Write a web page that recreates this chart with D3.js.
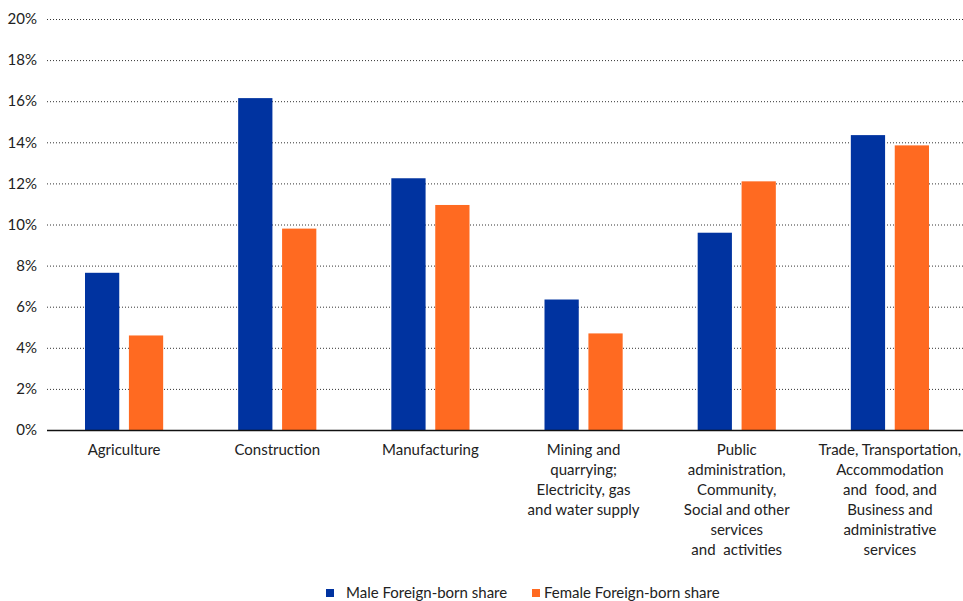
<!DOCTYPE html>
<html>
<head>
<meta charset="utf-8">
<script src="https://cdn.jsdelivr.net/npm/d3@7"></script>
<style>
  body { margin: 0; background: #fff; }
  svg { font-family: "Lato", "Open Sans", sans-serif; }
</style>
</head>
<body>
<svg id="chart" width="963" height="601"></svg>
<script>
var categories = [
  ["Agriculture"],
  ["Construction"],
  ["Manufacturing"],
  ["Mining and", "quarrying;", "Electricity, gas", "and water supply"],
  ["Public", "administration,", "Community,", "Social and other", "services", "and  activities"],
  ["Trade, Transportation,", "Accommodation", "and  food, and", "Business and", "administrative", "services"]
];
var male = [7.65, 16.15, 12.25, 6.35, 9.6, 14.35];
var female = [4.6, 9.8, 10.95, 4.7, 12.1, 13.85];
var seriesNames = ["Male Foreign-born share", "Female Foreign-born share"];
var yTicks = [0, 2, 4, 6, 8, 10, 12, 14, 16, 18, 20];

var colors = ["#0033a0", "#ff6a21"];

var svg = d3.select("#chart"),
    margin = {top: 19, right: 0, bottom: 171, left: 47},
    width = +svg.attr("width") - margin.left - margin.right,
    height = +svg.attr("height") - margin.top - margin.bottom,
    g = svg.append("g").attr("transform", "translate(" + margin.left + "," + margin.top + ")");

var x0 = d3.scaleBand()
    .domain(d3.range(categories.length))
    .range([0.5, 919.5])
    .paddingInner(0)
    .paddingOuter(0);

var x1 = d3.scaleBand()
    .domain([0, 1])
    .range([37.5, x0.bandwidth() - 37.5])
    .paddingInner(0.22);

var y = d3.scaleLinear()
    .domain([0, 20])
    .range([height, 0]);

// grid
g.append("g")
  .selectAll("line")
  .data(yTicks.slice(1))
  .enter().append("line")
    .attr("x1", 0)
    .attr("x2", width)
    .attr("y1", function(d) { return y(d) + 0.5; })
    .attr("y2", function(d) { return y(d) + 0.5; })
    .attr("stroke", "#333")
    .attr("stroke-dasharray", "1,2");

// y labels
g.append("g")
  .selectAll("text")
  .data(yTicks)
  .enter().append("text")
    .attr("x", -10)
    .attr("y", function(d) { return y(d); })
    .attr("dy", "0.35em")
    .attr("text-anchor", "end")
    .attr("font-size", 15)
    .attr("fill", "#222")
    .text(function(d) { return d + "%"; });

// bars
var groups = g.append("g")
  .selectAll("g")
  .data(categories.map(function(c, i) { return [male[i], female[i]]; }))
  .enter().append("g")
    .attr("transform", function(d, i) { return "translate(" + x0(i) + ",0)"; });

groups.selectAll("rect")
  .data(function(d) { return d; })
  .enter().append("rect")
    .attr("x", function(d, j) { return x1(j); })
    .attr("width", x1.bandwidth())
    .attr("y", function(d) { return y(d); })
    .attr("height", function(d) { return height - y(d); })
    .attr("fill", function(d, j) { return colors[j]; });

// baseline
g.append("line")
    .attr("x1", 0)
    .attr("x2", width)
    .attr("y1", height + 0.5)
    .attr("y2", height + 0.5)
    .attr("stroke", "#111")
    .attr("stroke-width", 1.5);

// category labels
var labels = g.append("g")
  .selectAll("text")
  .data(categories)
  .enter().append("text")
    .attr("x", function(d, i) { return x0(i) + x0.bandwidth() / 2; })
    .attr("y", height + 25)
    .attr("text-anchor", "middle")
    .attr("font-size", 15)
    .attr("fill", "#222");

labels.selectAll("tspan")
  .data(function(d) { return d; })
  .enter().append("tspan")
    .attr("x", function() { return d3.select(this.parentNode).attr("x"); })
    .attr("dy", function(d, k) { return k === 0 ? 0 : 20; })
    .style("white-space", "pre")
    .text(function(d) { return d; });

// legend
var legendX = [326, 532];
var legend = svg.append("g")
  .selectAll("g")
  .data(seriesNames)
  .enter().append("g")
    .attr("transform", function(d, i) { return "translate(" + legendX[i] + ",589)"; });

legend.append("rect")
    .attr("width", 8)
    .attr("height", 8)
    .attr("fill", function(d, i) { return colors[i]; });

legend.append("text")
    .attr("x", function(d, i) { return i === 0 ? 20 : 12; })
    .attr("y", 4)
    .attr("dy", "0.35em")
    .attr("font-size", 15)
    .attr("fill", "#222")
    .text(function(d) { return d; });
</script>
</body>
</html>
